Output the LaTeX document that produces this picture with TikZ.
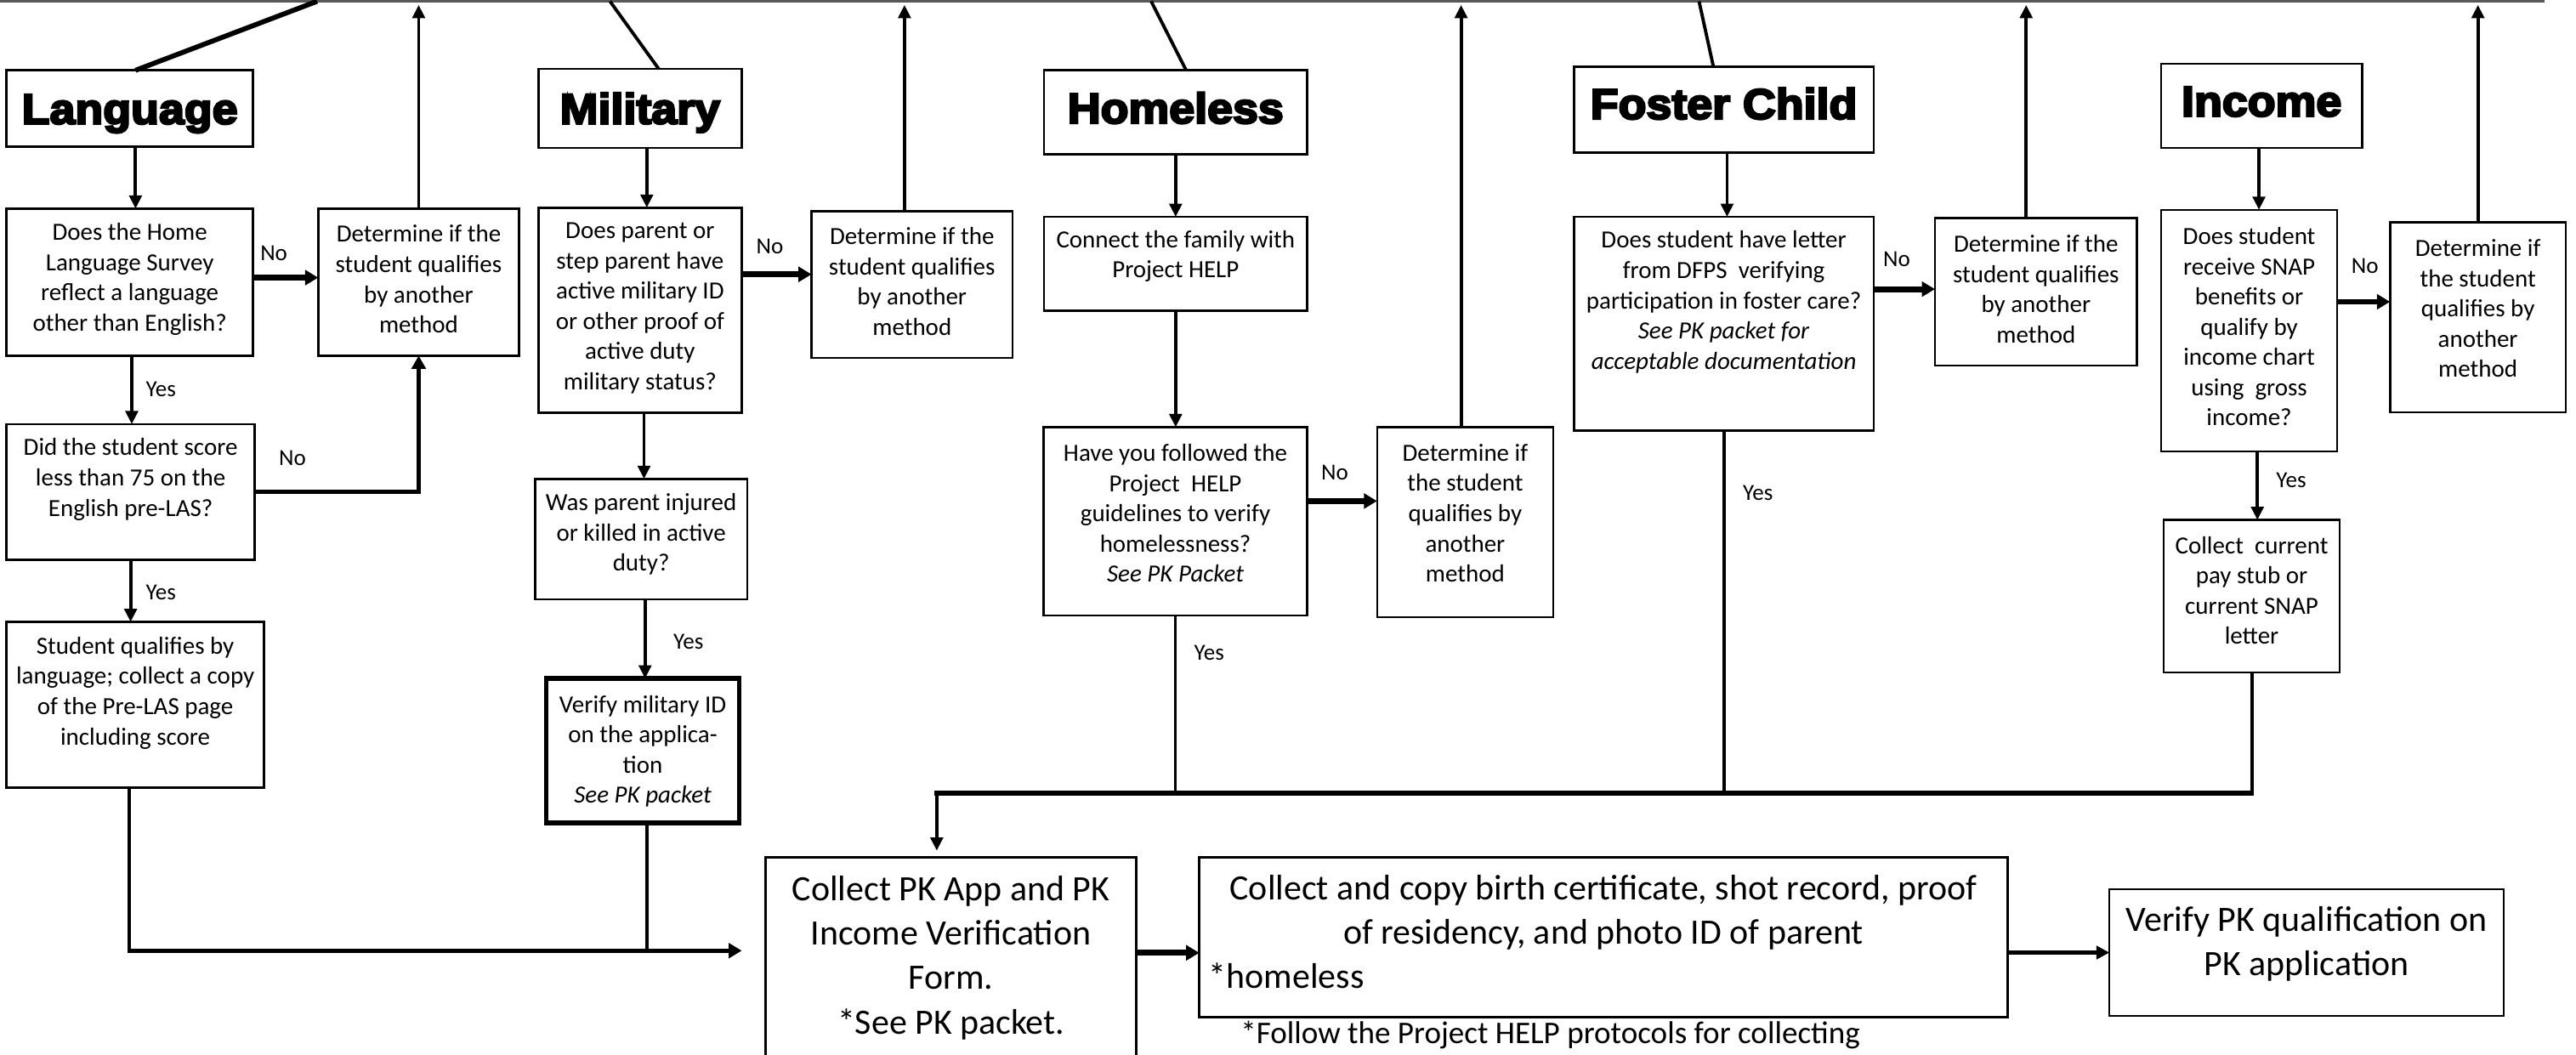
\documentclass[tikz,border=0pt]{standalone}
\usepackage{fontspec}
\setmainfont{Carlito}
\newfontfamily\headfont{Liberation Sans}[BoldFeatures={FakeBold=5,FakeStretch=1.07}]
\usetikzlibrary{arrows.meta,calc}
\tikzset{
 box/.style={draw, line width=1.3pt, inner sep=0pt, outer sep=0pt, anchor=north west},
 tbox/.style={box, line width=2.8pt},
 txt/.style={font=\fontsize{15}{18.4}\selectfont, align=center, inner sep=0pt},
 big/.style={font=\fontsize{21.7}{27}\selectfont, align=center, inner sep=0pt},
 head/.style={font=\headfont\bfseries\fontsize{26}{30}\selectfont, inner sep=0pt, anchor=base},
 lbl/.style={font=\fontsize{14}{16}\selectfont, inner sep=0pt},
 ln/.style={line width=2pt},
 arr/.style={line width=2pt, -{Triangle[length=8pt,width=7.5pt]}},
 noarr/.style={line width=3.6pt, -{Triangle[length=8pt,width=9pt]}},
}
\newcommand\mkbx[6][box]{\node[#1, minimum width={#5-#3}, minimum height={#6-#4}] (#2) at (#3,#4) {};}
\begin{document}
\begin{tikzpicture}[x=1pt,y=-1pt]
\useasboundingbox (0,0) rectangle (1568,642);
\clip (0,0) rectangle (1568,642);
% top line
\coordinate (tlL) at (0,0.8);
\coordinate (tlR) at (1548.6,0.8);
\draw[line width=1.2pt, black!65] (tlL) -- (tlR);
\coordinate (tip) at (0,3);
\coordinate (tl1) at (193,0.8);
\coordinate (tl2) at (371.3,0.8);
\coordinate (tl3) at (700.7,0.8);
\coordinate (tl4) at (1034.2,0.8);
% boxes
\mkbx{lang}{4}{42.8}{154}{89.2}
\mkbx{mil}{327.7}{42}{451.5}{90}
\mkbx{home}{635.5}{42.8}{795.7}{94}
\mkbx{fost}{958}{40.5}{1140.5}{93}
\mkbx{inc}{1315.5}{38.8}{1437.7}{90}
\mkbx{q1}{4}{127}{154}{216.5}
\mkbx{d1}{193.7}{127}{316}{216.5}
\mkbx{q2}{4}{258.2}{155}{340.7}
\mkbx{s1}{4}{378.6}{160.7}{479.5}
\mkbx{m1}{327.7}{126.4}{451.5}{251.3}
\mkbx{m2}{325.7}{291.5}{454.8}{364.8}
\mkbx[tbox]{m3}{332.6}{413}{449.9}{501}
\mkbx{d2}{494}{128.5}{616.3}{217.9}
\mkbx{h1}{635.5}{132}{795.7}{189.2}
\mkbx{h2}{635.3}{260}{795.6}{374.7}
\mkbx{d3}{838.2}{260}{945.5}{375.7}
\mkbx{f1}{958}{132}{1140.5}{262.2}
\mkbx{d4}{1177.8}{132.8}{1300.8}{222.5}
\mkbx{i1}{1315.5}{127.7}{1422.6}{274.7}
\mkbx{d5}{1454.8}{135.4}{1561.8}{251}
\mkbx{i2}{1317}{316.5}{1424.2}{409.3}
\mkbx{b1}{466}{521.8}{691.7}{700}
\mkbx{b2}{730}{521.8}{1222}{619.2}
\mkbx{b3}{1284}{541.3}{1524}{618.4}
% headings
\node[head] (langt) at (lang.center |- 0,75.4) {Language};
\node[head] (milt) at (mil.center |- 0,75.3) {Military};
\node[head] (homet) at (home.center |- 0,75) {Homeless};
\node[head] (fostt) at (fost.center |- 0,72.4) {Foster Child};
\node[head] (inct) at (inc.center |- 0,70.7) {Income};
% texts
\node[txt] (q1t) at (q1.center |- 0,169.9) {Does the Home\\Language Survey\\reflect a language\\other than English?};
\node[txt] (d1t) at (d1.center |- 0,169.9) {Determine if the\\student qualifies\\by another\\method};
\node[txt] (q2t) at (q2.center |- 0,291.8) {Did the student score\\less than 75 on the\\English pre-LAS?};
\node[txt] (s1t) at (s1.center |- 0,421.8) {Student qualifies by\\language; collect a copy\\of the Pre-LAS page\\including score};
\node[txt] (m1t) at (m1.center |- 0,187.6) {Does parent or\\step parent have\\active military ID\\or other proof of\\active duty\\military status?};
\node[txt] (m2t) at (m2.center |- 0,325.2) {Was parent injured\\or killed in active\\duty?};
\node[txt] (m3t) at (m3.center |- 0,457.3) {Verify military ID\\on the applica-\\tion\\\textit{See PK packet}};
\node[txt] (d2t) at (d2.center |- 0,171.2) {Determine if the\\student qualifies\\by another\\method};
\node[txt] (h1t) at (h1.center |- 0,156) {Connect the family with\\Project HELP};
\node[txt] (h2t) at (h2.center |- 0,312.4) {Have you followed the\\Project\ \ HELP\\guidelines to verify\\homelessness?\\\textit{See PK Packet}};
\node[txt] (d3t) at (d3.center |- 0,312.4) {Determine if\\the student\\qualifies by\\another\\method};
\node[txt] (f1t) at (f1.center |- 0,183.9) {Does student have letter\\from DFPS\ \ verifying\\participation in foster care?\\\textit{See PK packet for}\\\textit{acceptable documentation}};
\node[txt] (d4t) at (d4.center |- 0,176) {Determine if the\\student qualifies\\by another\\method};
\node[txt] (i1t) at (i1.center |- 0,198.8) {Does student\\receive SNAP\\benefits or\\qualify by\\income chart\\using\ \ gross\\income?};
\node[txt] (d5t) at (d5.center |- 0,187.8) {Determine if\\the student\\qualifies by\\another\\method};
\node[txt] (i2t) at (i2.center |- 0,359.5) {Collect\ \ current\\pay stub or\\current SNAP\\letter};
\node[big] (b1t) at (b1.center |- 0,583) {Collect PK App and PK\\Income Verification\\Form.\\*See PK packet.};
\node[big] (b2t) at (b2.center |- 0,555.4) {Collect and copy birth certificate, shot record, proof\\of residency, and photo ID of parent};
\node[big, anchor=base west] (b2h) at (735.6,601.8) {*homeless};
\node[big] (b3t) at (b3.center |- 0,574.6) {Verify PK qualification on\\PK application};
\node[font=\fontsize{19.2}{23}\selectfont, inner sep=0pt, anchor=base west] (fn) at (755,635.3) {*Follow the Project HELP protocols for collecting};
% labels
\node[lbl] (l1) at (166.7,154) {No};
\node[lbl] (l2) at (98,237) {Yes};
\node[lbl] (l3) at (178,279) {No};
\node[lbl] (l4) at (98,360.5) {Yes};
\node[lbl] (l5) at (468.6,150) {No};
\node[lbl] (l6) at (419,390.7) {Yes};
\node[lbl] (l7) at (812.5,287.7) {No};
\node[lbl] (l8) at (736,397.5) {Yes};
\node[lbl] (l9) at (1070,300) {Yes};
\node[lbl] (l10) at (1154.5,157.8) {No};
\node[lbl] (l11) at (1439.5,162) {No};
\node[lbl] (l12) at (1394.6,292.5) {Yes};
% diagonals
\draw[line width=3pt] ([xshift=3.5pt]lang.north) -- (tl1);
\draw[line width=2pt] ([xshift=11.4pt]mil.north) -- (tl2);
\draw[line width=2pt] ([xshift=6.4pt]home.north) -- (tl3);
\draw[line width=2pt] ([xshift=-6.35pt]fost.north) -- (tl4);
% Language column
\draw[arr, transform canvas={xshift=3.5pt}] (lang.south) -- (q1.north);
\draw[noarr, transform canvas={yshift=2.75pt}] (q1.east) -- (d1.west);
\draw[arr] (d1.north) -- (d1.north |- tip);
\draw[arr, transform canvas={xshift=1.2pt}] (q1.south) -- (q1.south |- q2.north);
\draw[line width=2.6pt, -{Triangle[length=8pt,width=8.5pt]}] (q2.east) -| (d1.south);
\draw[arr] (q2.south) -- (q2.south |- s1.north);
\coordinate (b1in) at (451.5,578.7);
\draw[line width=2.5pt, -{Triangle[length=8pt,width=9pt]}] ([xshift=-3.7pt]s1.south) |- (b1in);
\draw[ln, transform canvas={xshift=2.4pt}] (m3.south) -- (m3.south |- b1in);
% Military column
\draw[arr, transform canvas={xshift=4.1pt}] (mil.south) -- (mil.south |- m1.north);
\draw[noarr] (m1.east |- 0,167) -- (d2.west |- 0,167);
\draw[arr, transform canvas={xshift=-4.6pt}] (d2.north) -- (d2.north |- tip);
\draw[arr, transform canvas={xshift=2.4pt}] (m1.south) -- (m1.south |- m2.north);
\draw[arr, transform canvas={xshift=2.4pt}] (m2.south) -- (m2.south |- m3.north);
% Homeless column
\draw[arr] (home.south) -- (home.south |- h1.north);
\draw[arr] (h1.south) -- (h1.south |- h2.north);
\draw[noarr] (h2.east |- 0,305) -- (d3.west |- 0,305);
\draw[arr, transform canvas={xshift=-2.5pt}] (d3.north) -- (d3.north |- tip);
\coordinate (mg) at (570.2,483);
\draw[ln] (h2.south) -- (h2.south |- mg);
\draw[ln] (f1.south) -- (f1.south |- mg);
\draw[ln] (i2.south) -- (i2.south |- mg);
\draw[line width=3pt, line cap=rect] (mg) -- (i2.south |- mg);
\path (mg |- b1.north) ++(0,-4) coordinate (b1top);
\draw[arr] (mg) -- (b1top);
% Foster column
\draw[arr, transform canvas={xshift=2pt}] (fost.south) -- (fost.south |- f1.north);
\draw[noarr] (f1.east |- 0,176) -- (d4.west |- 0,176);
\draw[arr, transform canvas={xshift=-6pt}] (d4.north) -- (d4.north |- tip);
% Income column
\draw[arr, transform canvas={xshift=-1.6pt}] (inc.south) -- (inc.south |- i1.north);
\draw[noarr] (i1.east |- 0,183.7) -- (d5.west |- 0,183.7);
\draw[arr] (d5.north) -- (d5.north |- tip);
\draw[arr, transform canvas={xshift=5pt}] (i1.south) -- (i1.south |- i2.north);
% bottom row
\draw[noarr] (b1.east |- 0,580) -- (b2.west |- 0,580);
\draw[line width=2.5pt, -{Triangle[length=8pt,width=8pt]}] (b2.east |- b3.west) -- (b3.west);
\end{tikzpicture}
\end{document}
